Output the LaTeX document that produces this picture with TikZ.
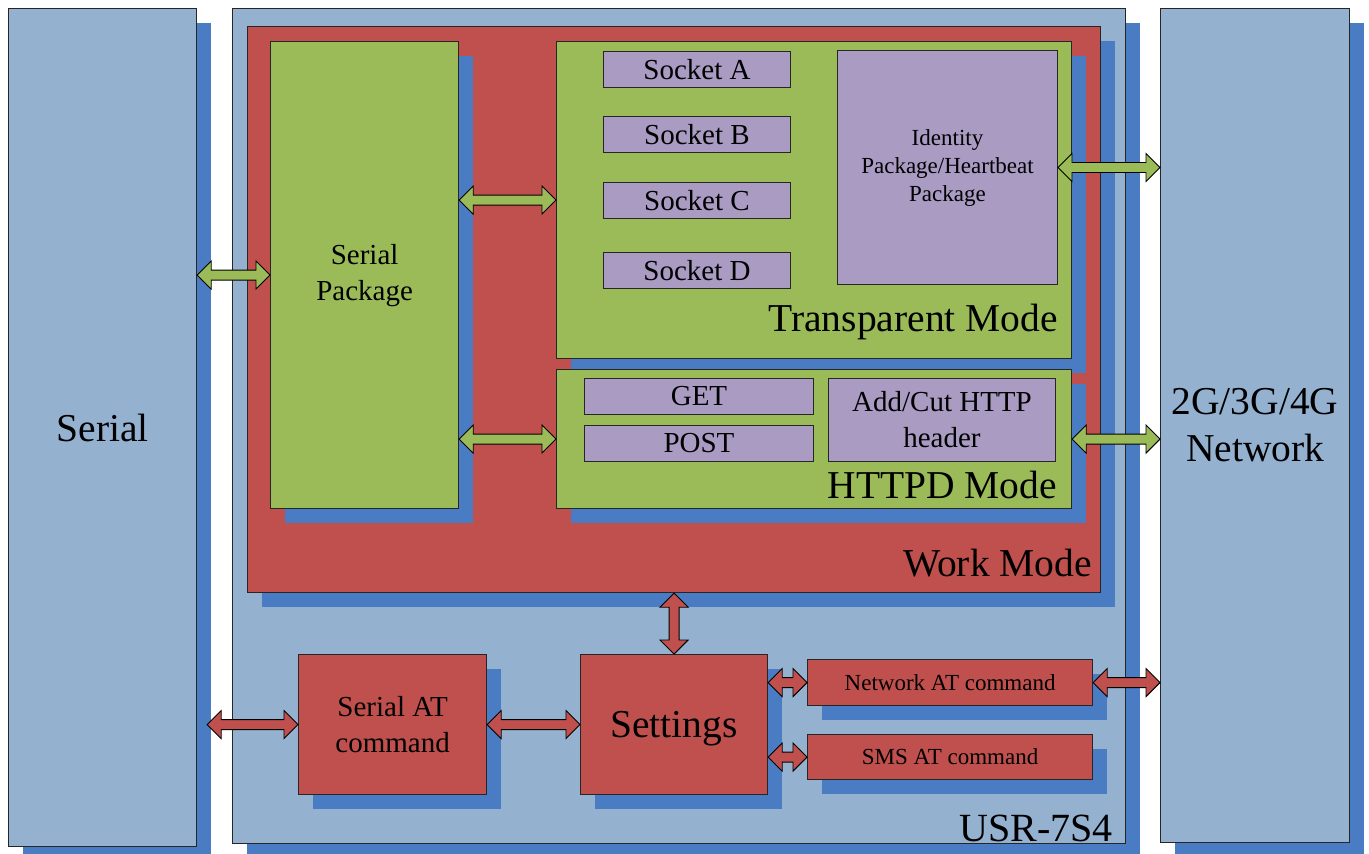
\documentclass[tikz,border=0pt]{standalone}
\usepackage{fontspec}
\setmainfont{Liberation Serif}
\usetikzlibrary{shadows,calc}

\definecolor{paleblue}{HTML}{95B1D0}
\definecolor{shadeblue}{HTML}{4A7CC4}
\definecolor{brick}{HTML}{C0504D}
\definecolor{leaf}{HTML}{9BBB59}
\definecolor{lilac}{HTML}{A99BC2}
\definecolor{edgegray}{HTML}{262626}

% rectangular block given by its pixel corners (x1,y1)-(x2,y2)
\newcommand\block[7]{%
  \node[blockbase,#6,minimum width={(#4-#2)*1pt},minimum height={(#5-#3)*1pt}]
    (#1) at (#2,#3) {#7};}

% double-headed block arrows between two tips
\newcommand\harrow[3]{%
  \path[#1] let \p1=(#2), \p2=(#3) in
    (\x1,\y1) -- ({\x1+14pt},{\y1+14pt}) -- ({\x1+14pt},{\y1+5pt})
    -- ({\x2-14pt},{\y1+5pt}) -- ({\x2-14pt},{\y1+14pt}) -- (\x2,\y1)
    -- ({\x2-14pt},{\y1-14pt}) -- ({\x2-14pt},{\y1-5pt})
    -- ({\x1+14pt},{\y1-5pt}) -- ({\x1+14pt},{\y1-14pt}) -- cycle;}
\newcommand\varrow[3]{%
  \path[#1] let \p1=(#2), \p2=(#3) in
    (\x1,\y1) -- ({\x1+14pt},{\y1-14pt}) -- ({\x1+5pt},{\y1-14pt})
    -- ({\x1+5pt},{\y2+14pt}) -- ({\x1+14pt},{\y2+14pt}) -- (\x1,\y2)
    -- ({\x1-14pt},{\y2+14pt}) -- ({\x1-5pt},{\y2+14pt})
    -- ({\x1-5pt},{\y1-14pt}) -- ({\x1-14pt},{\y1-14pt}) -- cycle;}

\tikzset{
  blockbase/.style={rectangle,anchor=north west,inner sep=0pt,draw=edgegray,
    line width=1.2pt,align=center},
  shade14/.style={drop shadow={shadow xshift=14pt,shadow yshift=-14pt,
    fill=shadeblue,opacity=1}},
  outerbox/.style={fill=paleblue,shade14},
  redbox/.style={fill=brick,shade14},
  greenbox/.style={fill=leaf,shade14},
  lilacbox/.style={fill=lilac,line width=1pt},
  greenarrow/.style={fill=leaf,draw=black,line width=0.9pt,line join=miter},
  redarrow/.style={fill=brick,draw=black,line width=0.9pt,line join=miter},
  hugefont/.style={font=\fontsize{39.5}{47}\selectfont},
  bigfont/.style={font=\fontsize{29}{36}\selectfont},
  smallfont/.style={font=\fontsize{23}{28}\selectfont},
  cornerlabel/.style={anchor=base east,inner sep=0pt,hugefont},
}

\begin{document}
\begin{tikzpicture}[x=1pt,y=-1pt]
\useasboundingbox (0,0) rectangle (1369,854);

% outer columns and the module frame
\block{serial}{8}{8}{196}{846}{outerbox,hugefont}{Serial}
\block{usr}{232}{8}{1125}{843}{outerbox}{}
\block{network}{1160}{8}{1349}{842}{outerbox,hugefont}{2G/3G/4G\\Network}
\node[cornerlabel,font=\fontsize{40}{48}\selectfont] (usrlabel) at (1113,841) {USR-7S4};

% work mode area
\block{work}{247}{26}{1100}{592}{redbox}{}
\node[cornerlabel] (worklabel) at (1092,576) {Work Mode};

\block{spkg}{270}{41}{458}{508}{greenbox,bigfont}{Serial\\Package}

\block{trans}{556}{41}{1071}{358}{greenbox}{}
\node[cornerlabel] (translabel) at (1058,331) {Transparent Mode};
\block{sockA}{603}{51}{790}{87}{lilacbox,bigfont}{Socket A}
\block{sockB}{603}{116}{790}{152}{lilacbox,bigfont}{Socket B}
\block{sockC}{603}{182}{790}{218}{lilacbox,bigfont}{Socket C}
\block{sockD}{603}{252}{790}{288}{lilacbox,bigfont}{Socket D}
\block{ident}{837}{50}{1057}{284}{lilacbox,smallfont}{Identity\\Package/Heartbeat\\Package}

\block{httpd}{556}{369}{1071}{508}{greenbox}{}
\node[cornerlabel] (httpdlabel) at (1057,498) {HTTPD Mode};
\block{get}{584}{378}{813}{414}{lilacbox,bigfont}{GET}
\block{post}{584}{425}{813}{461}{lilacbox,bigfont}{POST}
\block{hdr}{828}{378}{1055}{461}{lilacbox,bigfont}{Add/Cut HTTP\\header}

% configuration path
\block{serat}{298}{654}{486}{794}{redbox,bigfont}{Serial AT\\command}
\block{settings}{580}{654}{767}{794}{redbox,hugefont,text depth=-4pt}{Settings}
\block{netat}{807}{659}{1092}{705}{redbox,smallfont}{Network AT command}
\block{smsat}{807}{734}{1092}{779}{redbox,smallfont}{SMS AT command}

% data flow
\harrow{greenarrow}{serial.east |- spkg.west}{spkg.west}
\harrow{greenarrow}{spkg.east |- trans.west}{trans.west}
\harrow{greenarrow}{spkg.east |- httpd.west}{httpd.west}
\harrow{greenarrow}{ident.east}{network.west |- ident.east}
\harrow{greenarrow}{httpd.east}{network.west |- httpd.east}

% configuration flow
\varrow{redarrow}{settings.north |- work.south}{settings.north}
\harrow{redarrow}{$(serial.east |- serat.west)+(10,0)$}{serat.west}
\harrow{redarrow}{serat.east}{settings.west}
\harrow{redarrow}{settings.east |- netat.west}{netat.west}
\harrow{redarrow}{settings.east |- smsat.west}{smsat.west}
\harrow{redarrow}{netat.east}{network.west |- netat.east}
\end{tikzpicture}
\end{document}
